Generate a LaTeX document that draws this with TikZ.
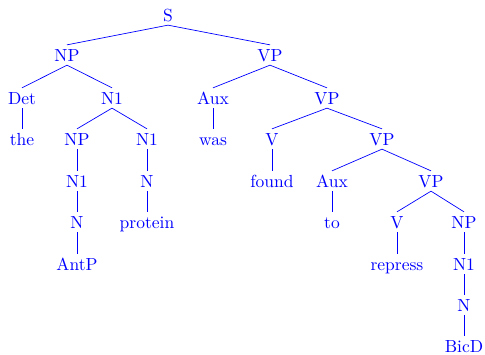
\documentclass[tikz,border=0pt]{standalone}
\usepackage{fontspec}
\setmainfont{lmroman10-regular}[Extension=.otf]
\begin{document}
\begin{tikzpicture}[x=1pt,y=-1pt,
  every node/.style={text=blue,font=\fontsize{17.5}{20}\selectfont,
    inner sep=0pt,outer sep=4pt,text height=12.3pt,text depth=0pt},
  edge/.style={draw=blue,line width=0.7pt}]
\useasboundingbox (0,0) rectangle (485,355);
% level 0-1
\node (s) at (168,15) {S};
\node (np) at (67,55) {NP};
\node (vp) at (270,55) {VP};
% level 2
\node (det) at (22,98) {Det};
\node (nA) at (112,98) {N1};
\node (aux) at (213,98) {Aux};
\node (vpB) at (327,98) {VP};
% level 3
\node (the) at (22,139) {the};
\node (npC) at (77,139) {NP};
\node (nC) at (147,139) {N1};
\node (was) at (213,139) {was};
\node (v) at (272,139) {V};
\node (vpC) at (382,139) {VP};
% level 4
\node (nD) at (77,181) {N1};
\node (nnD) at (147,181) {N};
\node (found) at (272,181) {found};
\node (auxD) at (332,181) {Aux};
\node (vpD) at (431,181) {VP};
% level 5
\node (nE) at (77,222) {N};
\node (protein) at (147,222) {protein};
\node (to) at (332,222) {to};
\node (vE) at (397,222) {V};
\node (npE) at (464,222) {NP};
% level 6-8
\node (antp) at (77,264) {AntP};
\node (repress) at (397,264) {repress};
\node (nF) at (464,264) {N1};
\node (nG) at (464,305) {N};
\node (bicd) at (464,346) {BicD};
% branches
\foreach \p/\c in {s/np,s/vp,np/det,np/nA,vp/aux,vp/vpB,det/the,nA/npC,nA/nC,
  aux/was,vpB/v,vpB/vpC,npC/nD,nC/nnD,v/found,vpC/auxD,vpC/vpD,nD/nE,nnD/protein,
  auxD/to,vpD/vE,vpD/npE,nE/antp,vE/repress,npE/nF,nF/nG,nG/bicd}
  \draw[edge] (\p.south) -- (\c.north);
\end{tikzpicture}
\end{document}
